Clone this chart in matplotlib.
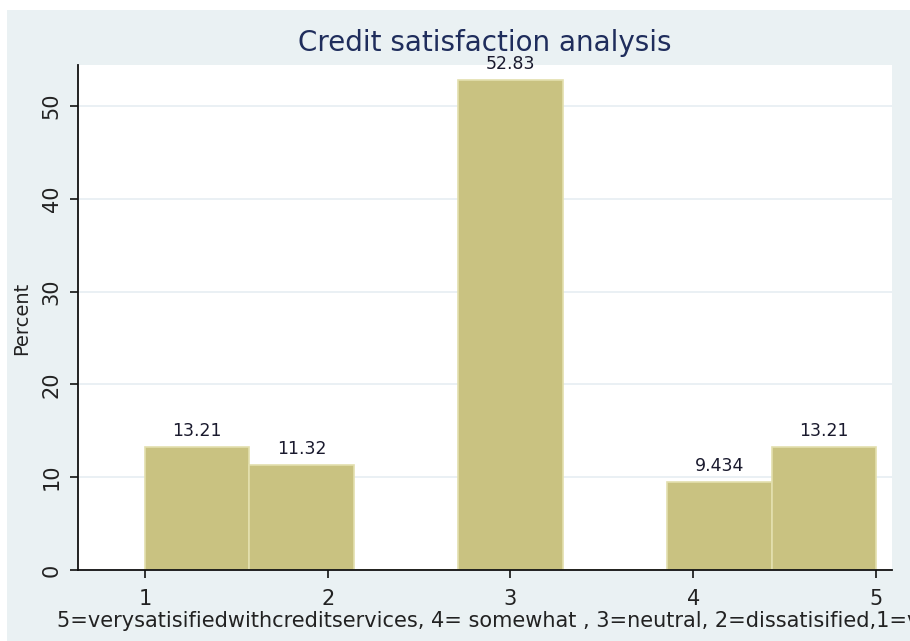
import numpy as np
import matplotlib.pyplot as plt
from matplotlib.patches import Rectangle

# histogram of satisfaction score, 7 bins between 1 and 5
bin_edges = np.linspace(1, 5, 8)
percent = [13.21, 11.32, 0, 52.83, 0, 9.434, 13.21]
bar_labels = ['13.21', '11.32', '', '52.83', '', '9.434', '13.21']
x_ticks = [1, 2, 3, 4, 5]
y_ticks = [0, 10, 20, 30, 40, 50]

plt.rcParams['font.family'] = ['DejaVu Sans']

bg = '#eaf1f3'
bar_col = '#c9c281'
edge_col = '#e3dfae'
title_col = '#1f2d5c'
txt_col = '#222222'

W, H = 910, 641
fig = plt.figure(figsize=(W / 100, H / 100), dpi=100)
fig.patches.append(Rectangle((7 / W, 0), 1, 1 - 10 / H, transform=fig.transFigure,
                             facecolor=bg, edgecolor='none', zorder=-10))

ax = fig.add_axes([78 / W, 1 - 570 / H, (892 - 78) / W, (570 - 65) / H])
ax.set_facecolor('white')

widths = np.diff(bin_edges)
bars = ax.bar(bin_edges[:-1], percent, width=widths, align='edge',
              color=bar_col, edgecolor=edge_col, linewidth=1.2, zorder=2)

for b, lab in zip(bars, bar_labels):
    if lab:
        ax.annotate(lab, (b.get_x() + b.get_width() / 2, b.get_height()),
                    xytext=(0, 5), textcoords='offset points', ha='center', va='bottom',
                    fontsize=12.5, color='#1a1a2e', zorder=5)

ax.set_xlim(0.633, 5.088)
ax.set_ylim(0, 54.4)
ax.set_xticks(x_ticks)
ax.set_yticks(y_ticks)
ax.yaxis.grid(True, color='#e6eef2', linewidth=1.2, zorder=0)
ax.set_axisbelow(True)

for s in ['top', 'right']:
    ax.spines[s].set_visible(False)
for s in ['left', 'bottom']:
    ax.spines[s].set_color('#111111')
    ax.spines[s].set_linewidth(1.3)

ax.tick_params(axis='both', direction='out', length=5.8, width=1.2, colors='#111111',
               labelsize=15, labelcolor=txt_col)
ax.tick_params(axis='x', pad=8)
ax.tick_params(axis='y', pad=6)
plt.setp(ax.get_yticklabels(), rotation=90, va='center')

fig.text(22 / W, 1 - 318 / H, 'Percent', rotation=90, ha='center', va='center',
         fontsize=14, color=txt_col)
fig.text(57 / W, 1 - 627 / H,
         '5=verysatisifiedwithcreditservices, 4= somewhat , 3=neutral, 2=dissatisified,1=very dissatisified',
         ha='left', va='baseline', fontsize=15, color=txt_col)
fig.text(485 / W, 1 - 43 / H, 'Credit satisfaction analysis', ha='center', va='center',
         fontsize=20, color=title_col)

fig.savefig('out.png', dpi=100)
